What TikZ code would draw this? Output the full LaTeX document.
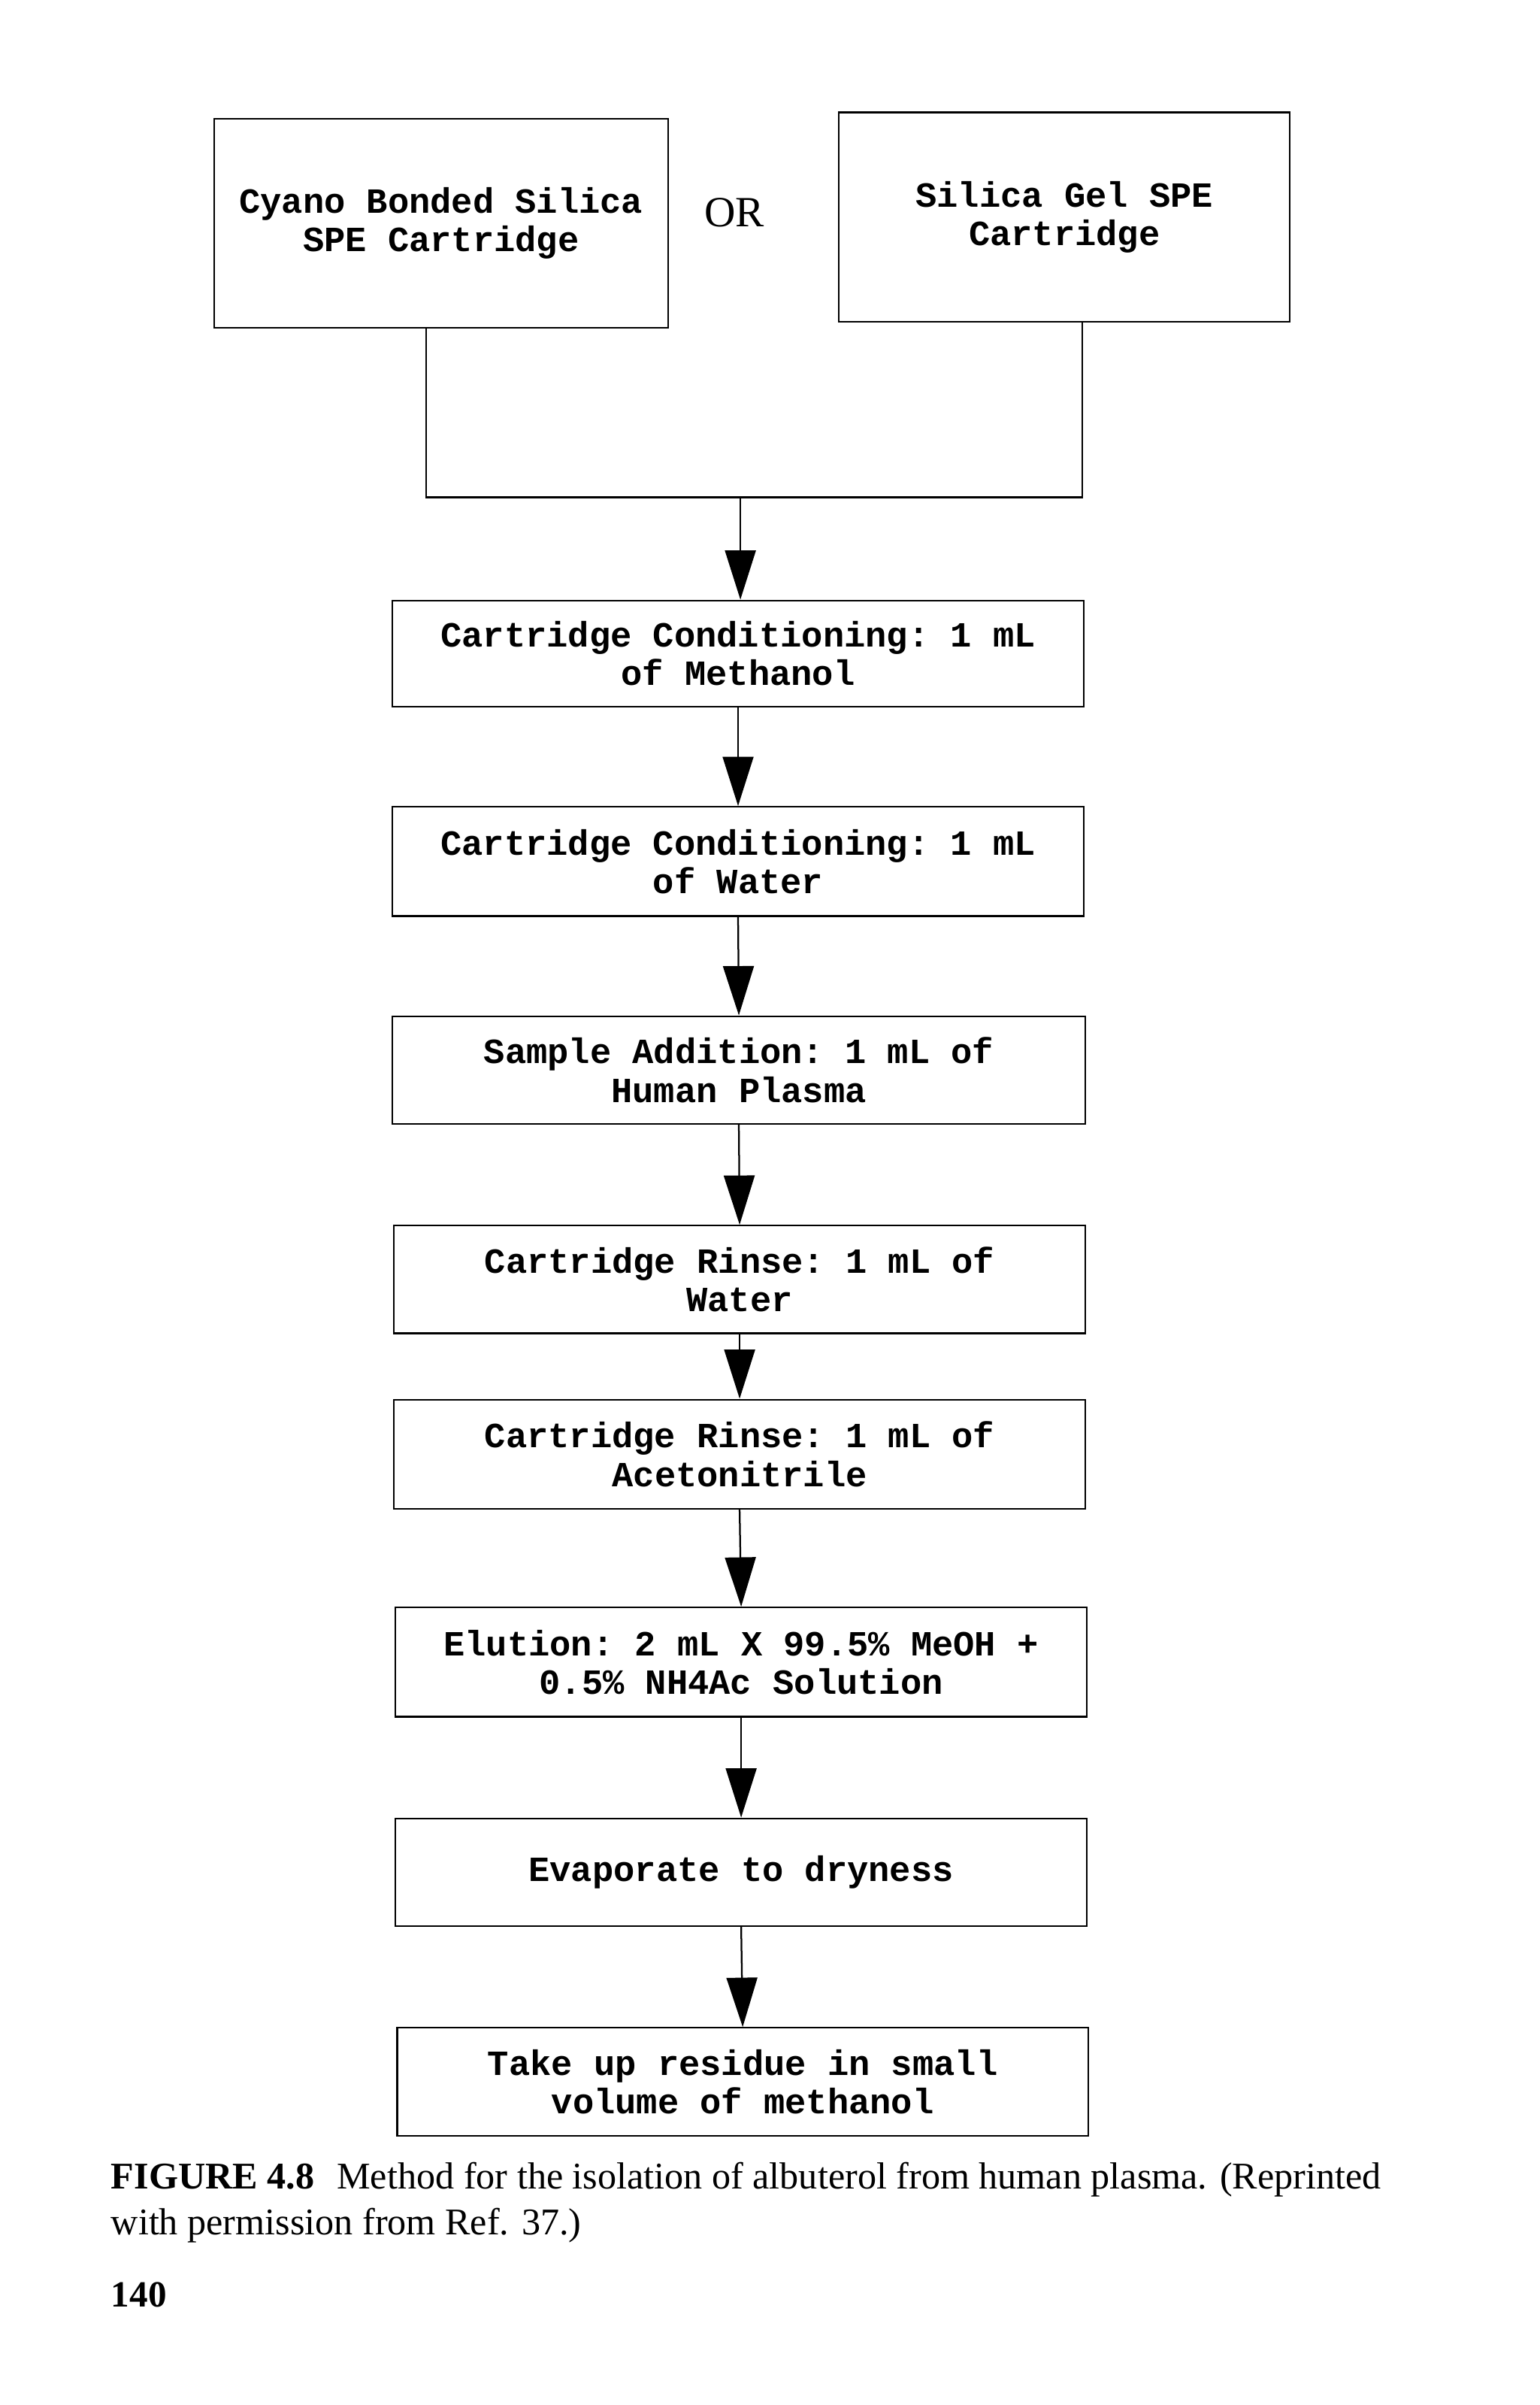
\documentclass[tikz,border=0pt]{standalone}
\usepackage{fontspec}
\setmonofont{Liberation Mono}
\newfontfamily\capfont{Liberation Serif}
\usetikzlibrary{arrows.meta}
\tikzset{
 box/.style={draw,line width=1.1pt,inner sep=0pt,align=center,font=\ttfamily\bfseries\fontsize{23}{25}\selectfont},
 ln/.style={line width=1.1pt},
 arr/.style={line width=1.1pt,-{Triangle[width=20pt,length=32pt]}}
}
\begin{document}
\begin{tikzpicture}[x=1pt,y=-1pt]
\useasboundingbox (0,0) rectangle (1000,1562);
\node[box,minimum width=295pt,minimum height=136pt] (b1) at (286.5,145) {Cyano Bonded Silica\\SPE Cartridge};
\node[font=\capfont\fontsize{28}{30}\selectfont] (or) at (477,138) {OR};
\node[box,minimum width=293pt,minimum height=136pt] (b2) at (691.5,141) {Silica Gel SPE\\Cartridge};
\node[box,minimum width=449pt,minimum height=69pt] (c1) at (479.5,424.5) {Cartridge Conditioning: 1 mL\\of Methanol};
\node[box,minimum width=449pt,minimum height=71pt] (c2) at (479.5,559.5) {Cartridge Conditioning: 1 mL\\of Water};
\node[box,minimum width=450pt,minimum height=70pt] (c3) at (480,695) {Sample Addition: 1 mL of\\Human Plasma};
\node[box,minimum width=449pt,minimum height=70pt] (c4) at (480.5,831) {Cartridge Rinse: 1 mL of\\Water};
\node[box,minimum width=449pt,minimum height=71pt] (c5) at (480.5,944.5) {Cartridge Rinse: 1 mL of\\Acetonitrile};
\node[box,minimum width=449pt,minimum height=71pt] (c6) at (481.5,1079.5) {Elution: 2 mL X 99.5\% MeOH +\\0.5\% NH4Ac Solution};
\node[box,minimum width=449pt,minimum height=70pt] (c7) at (481.5,1216) {Evaporate to dryness};
\node[box,minimum width=449pt,minimum height=70pt] (c8) at (482.5,1352) {Take up residue in small\\volume of methanol};
\coordinate (j1) at (277,323);
\coordinate (j2) at (703,323);
\coordinate (jm) at (481,323);
\draw[ln] (b1.south -| j1) -- (j1) -- (j2) -- (b2.south -| j2);
\draw[arr] (jm) -- (c1.north -| jm);
\foreach \a/\b in {c1/c2,c2/c3,c3/c4,c4/c5,c5/c6,c6/c7,c7/c8}
  \draw[arr] (\a.south) -- (\b.north);
\node[anchor=north west,align=left,inner sep=0pt,font=\capfont\fontsize{24.5}{30}\selectfont] (cap) at (72,1404)
 {\textbf{FIGURE 4.8}\hspace{0.6em}Method for the isolation of albuterol from human plasma. (Reprinted\\with permission from Ref. 37.)};
\node[anchor=north west,inner sep=0pt,font=\capfont\bfseries\fontsize{24}{26}\selectfont] (pg) at (72,1482) {140};
\end{tikzpicture}
\end{document}
